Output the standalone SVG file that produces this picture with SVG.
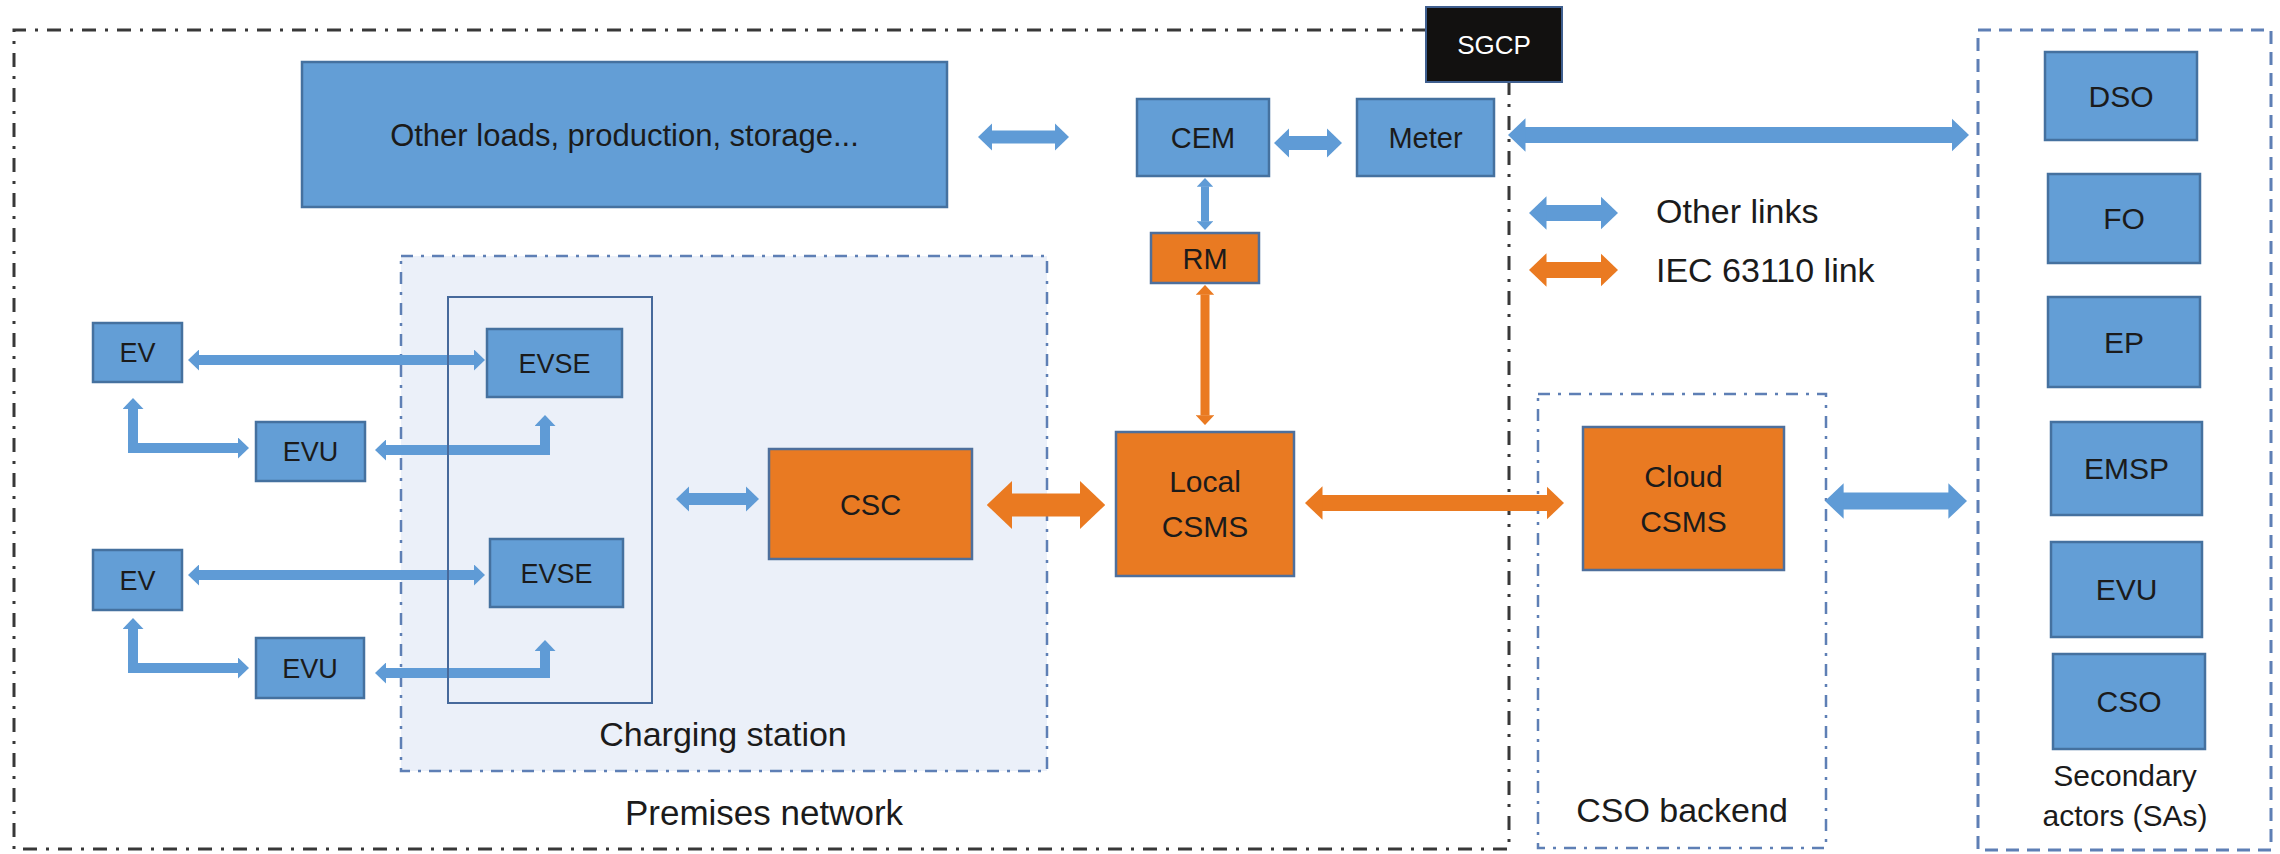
<svg xmlns="http://www.w3.org/2000/svg" width="2280" height="854" viewBox="0 0 2280 854">
<defs>
<style>
.bg{fill:#ffffff}
.nb{fill:#639ED6;stroke:#45719F;stroke-width:2.5}
.no{fill:#E97A22;stroke:#4E6F9C;stroke-width:2.5}
.nk{fill:#121110;stroke:#3F5F8F;stroke-width:2}
.t{font-family:"Liberation Sans",Arial,sans-serif;fill:#1b1b1b;text-anchor:middle}
.lg{font-family:"Liberation Sans",Arial,sans-serif;fill:#1b1b1b;font-size:34px}
.grp{font-family:"Liberation Sans",Arial,sans-serif;fill:#1b1b1b;text-anchor:middle;font-size:34px}
.prem{fill:none;stroke:#383838;stroke-width:3;stroke-dasharray:14 9 3 9}
.cs{fill:#EBF0F9;stroke:#5E7FB5;stroke-width:2.5;stroke-dasharray:12 8 3 8}
.inner{fill:none;stroke:#46699B;stroke-width:2}
.cso{fill:none;stroke:#5E7FB5;stroke-width:2.5;stroke-dasharray:12 8 3 8}
.sa{fill:none;stroke:#5E7FB5;stroke-width:3;stroke-dasharray:13 8}
.ab{fill:none;stroke:#5F9BD6;marker-start:url(#hb);marker-end:url(#hb)}
.ao{fill:none;stroke:#EA7A21;marker-start:url(#ho);marker-end:url(#ho)}
.el{stroke-linejoin:miter}
</style>
<marker id="hb" viewBox="0 0 11 21" refX="0.5" refY="10.5" markerWidth="1.1" markerHeight="2.1" orient="auto-start-reverse" markerUnits="strokeWidth">
<path d="M0,0 L11,10.5 L0,21 Z" fill="#5F9BD6"/>
</marker>
<marker id="ho" viewBox="0 0 11 21" refX="0.5" refY="10.5" markerWidth="1.1" markerHeight="2.1" orient="auto-start-reverse" markerUnits="strokeWidth">
<path d="M0,0 L11,10.5 L0,21 Z" fill="#EA7A21"/>
</marker>
</defs>
<rect class="bg" x="0" y="0" width="2280" height="854"/>

<g id="containers">
<g id="premises-network">
<path class="prem" d="M1426,30 H14 V849 H1509 V82"/>
<text class="grp" x="764" y="825" style="font-size:35px">Premises network</text>
</g>
<g id="charging-station">
<rect class="cs" x="401" y="256" width="646" height="515"/>
<text class="grp" x="723" y="746">Charging station</text>
</g>
<g id="cso-backend">
<rect class="cso" x="1538" y="394" width="288" height="454"/>
<text class="grp" x="1682" y="822">CSO backend</text>
</g>
<g id="secondary-actors">
<rect class="sa" x="1978" y="30" width="293" height="820"/>
<text class="t" x="2125" y="786" style="font-size:30px">Secondary</text>
<text class="t" x="2125" y="826" style="font-size:30px">actors (SAs)</text>
</g>
</g>

<g id="connectors">
<line class="ab" x1="991.6" y1="137" x2="1055.4" y2="137" stroke-width="13"/>
<line class="ab" x1="1288.6" y1="143" x2="1327.4" y2="143" stroke-width="14"/>
<line class="ab" x1="1524.7" y1="135" x2="1952.3" y2="135" stroke-width="16"/>
<line class="ab" x1="1205" y1="186.4" x2="1205" y2="221.6" stroke-width="8"/>
<line class="ao" x1="1205" y1="294.4" x2="1205" y2="415.6" stroke-width="9"/>
<line class="ab" x1="198.5" y1="360" x2="474.5" y2="360" stroke-width="10"/>
<line class="ab" x1="198.5" y1="575" x2="474.5" y2="575" stroke-width="10"/>
<polyline class="ab el" points="133,408.5 133,448 238.5,448" stroke-width="10"/>
<polyline class="ab el" points="385.5,450 545,450 545,425.5" stroke-width="10"/>
<polyline class="ab el" points="133,628.5 133,668 238.5,668" stroke-width="10"/>
<polyline class="ab el" points="385.5,673 545,673 545,650.5" stroke-width="10"/>
<line class="ab" x1="688.5" y1="499" x2="746.5" y2="499" stroke-width="12"/>
<line class="ao" x1="1011" y1="505" x2="1081" y2="505" stroke-width="23"/>
<line class="ao" x1="1321.7" y1="503" x2="1547.3" y2="503" stroke-width="16"/>
<line class="ab" x1="1842.8" y1="501" x2="1949.2" y2="501" stroke-width="17"/>
</g>

<g id="inner-evse-group">
<rect class="inner" x="448" y="297" width="204" height="406"/>
</g>

<g id="legend">
<line class="ab" x1="1545.7" y1="213" x2="1601.3" y2="213" stroke-width="16"/>
<line class="ao" x1="1545.7" y1="270" x2="1601.3" y2="270" stroke-width="16"/>
<text class="lg" x="1656" y="223">Other links</text>
<text class="lg" x="1656" y="282">IEC 63110 link</text>
</g>

<g id="other-loads"><rect class="nb" x="302" y="62" width="645" height="145"/><text class="t" x="624.5" y="146" style="font-size:31px">Other loads, production, storage...</text></g>
<g id="sgcp"><rect class="nk" x="1426" y="7" width="136" height="75"/><text class="t" x="1494" y="54" style="font-size:26px;fill:#ffffff">SGCP</text></g>
<g id="cem"><rect class="nb" x="1137" y="99" width="132" height="77"/><text class="t" x="1203" y="148" style="font-size:29px">CEM</text></g>
<g id="meter"><rect class="nb" x="1357" y="99" width="137" height="77"/><text class="t" x="1425.5" y="148" style="font-size:29px">Meter</text></g>
<g id="rm"><rect class="no" x="1151" y="233" width="108" height="50"/><text class="t" x="1205" y="269" style="font-size:29px">RM</text></g>
<g id="ev1"><rect class="nb" x="93" y="323" width="89" height="59"/><text class="t" x="137.5" y="362" style="font-size:27px">EV</text></g>
<g id="evse1"><rect class="nb" x="487" y="329" width="135" height="68"/><text class="t" x="554.5" y="373" style="font-size:27px">EVSE</text></g>
<g id="evu1"><rect class="nb" x="256" y="422" width="109" height="59"/><text class="t" x="310.5" y="461" style="font-size:27px">EVU</text></g>
<g id="ev2"><rect class="nb" x="93" y="550" width="89" height="60"/><text class="t" x="137.5" y="590" style="font-size:27px">EV</text></g>
<g id="evse2"><rect class="nb" x="490" y="539" width="133" height="68"/><text class="t" x="556.5" y="583" style="font-size:27px">EVSE</text></g>
<g id="evu2"><rect class="nb" x="256" y="638" width="108" height="60"/><text class="t" x="310" y="678" style="font-size:27px">EVU</text></g>
<g id="csc"><rect class="no" x="769" y="449" width="203" height="110"/><text class="t" x="870.5" y="515" style="font-size:29px">CSC</text></g>
<g id="local-csms"><rect class="no" x="1116" y="432" width="178" height="144"/><text class="t" x="1205" y="492" style="font-size:30px">Local</text><text class="t" x="1205" y="537" style="font-size:30px">CSMS</text></g>
<g id="cloud-csms"><rect class="no" x="1583" y="427" width="201" height="143"/><text class="t" x="1683.5" y="487" style="font-size:30px">Cloud</text><text class="t" x="1683.5" y="532" style="font-size:30px">CSMS</text></g>
<g id="dso"><rect class="nb" x="2045" y="52" width="152" height="88"/><text class="t" x="2121" y="107" style="font-size:30px">DSO</text></g>
<g id="fo"><rect class="nb" x="2048" y="174" width="152" height="89"/><text class="t" x="2124" y="229" style="font-size:30px">FO</text></g>
<g id="ep"><rect class="nb" x="2048" y="297" width="152" height="90"/><text class="t" x="2124" y="353" style="font-size:30px">EP</text></g>
<g id="emsp"><rect class="nb" x="2051" y="422" width="151" height="93"/><text class="t" x="2126.5" y="479" style="font-size:30px">EMSP</text></g>
<g id="evu-sa"><rect class="nb" x="2051" y="542" width="151" height="95"/><text class="t" x="2126.5" y="600" style="font-size:30px">EVU</text></g>
<g id="cso"><rect class="nb" x="2053" y="654" width="152" height="95"/><text class="t" x="2129" y="712" style="font-size:30px">CSO</text></g>
</svg>
